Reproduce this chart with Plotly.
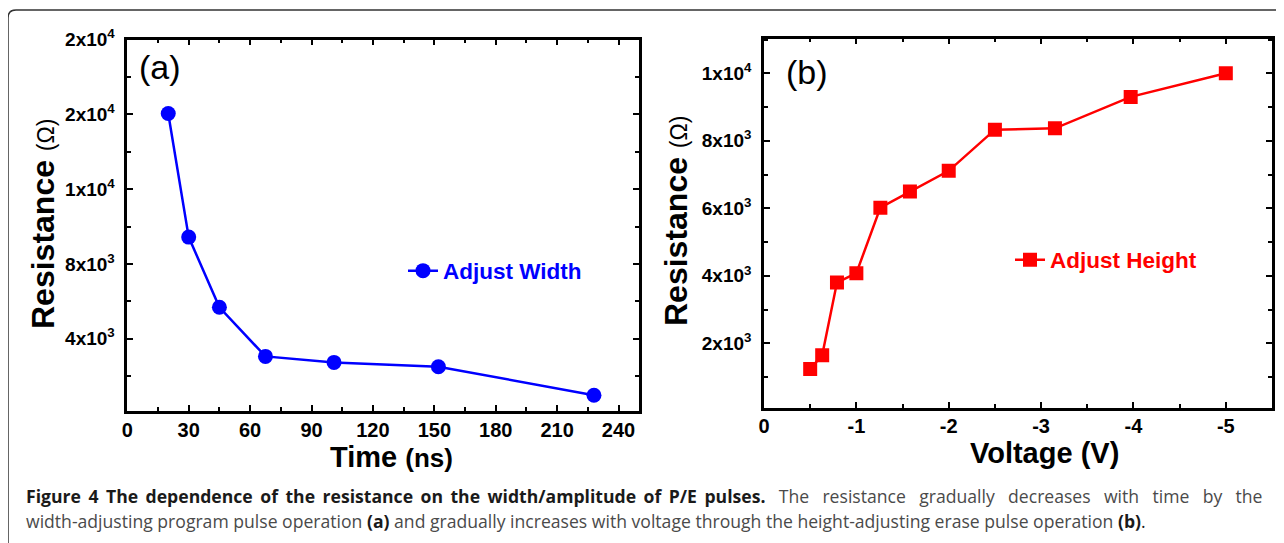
import plotly.graph_objects as go

# ---- data ----
time_ns = [20, 30, 45, 67.5, 101, 152, 228]
res_width = [16050, 9440, 5690, 3060, 2740, 2510, 980]

voltage = [-0.5, -0.63, -0.79, -1.0, -1.26, -1.58, -2.0, -2.5, -3.15, -3.97, -5.0]
res_height = [1240, 1650, 3800, 4080, 6020, 6500, 7110, 8330, 8370, 9300, 10000]

xa_ticks = [0, 30, 60, 90, 120, 150, 180, 210, 240]
ya_ticks = [4000, 8000, 12000, 16000, 20000]
ya_text = ["4x10<sup>3</sup>", "8x10<sup>3</sup>", "1x10<sup>4</sup>", "2x10<sup>4</sup>", "2x10<sup>4</sup>"]

xb_ticks = [0, -1, -2, -3, -4, -5]
xb_text = ["0", "-1", "-2", "-3", "-4", "-5"]
yb_ticks = [2000, 4000, 6000, 8000, 10000]
yb_text = ["2x10<sup>3</sup>", "4x10<sup>3</sup>", "6x10<sup>3</sup>", "8x10<sup>3</sup>", "1x10<sup>4</sup>"]

W, H = 1284, 543
OX, OY = -9, -10   # compensate for page offset
FONT = "Liberation Sans, Arial, sans-serif"

def px_x(v):
    return (v + OX) / W

def px_y(v):
    return 1 - (v + OY) / H

fig = go.Figure()
fig.add_trace(go.Scatter(
    x=time_ns, y=res_width, mode="lines+markers", name="<b>Adjust Width</b>",
    line=dict(color="#0000FF", width=2.5),
    marker=dict(symbol="circle", size=15, color="#0000FF"),
    xaxis="x", yaxis="y", legend="legend"))
fig.add_trace(go.Scatter(
    x=voltage, y=res_height, mode="lines+markers", name="<b>Adjust Height</b>",
    line=dict(color="#FF0000", width=2.5),
    marker=dict(symbol="square", size=14, color="#FF0000"),
    xaxis="x2", yaxis="y2", legend="legend2"))

minor_style = dict(ticks="inside", ticklen=4, tickwidth=2, tickcolor="black")
axis_common = dict(
    showline=True, linecolor="black", linewidth=2.5, mirror="allticks",
    ticks="inside", ticklen=6, tickwidth=2, tickcolor="black",
    showgrid=False, zeroline=False, automargin=False,
)
xfont = dict(family=FONT, size=20, color="black", weight="bold")
yfont = dict(family=FONT, size=19, color="black", weight="bold")

fig.update_layout(
    width=W, height=H,
    margin=dict(l=0, r=0, t=0, b=0),
    paper_bgcolor="white", plot_bgcolor="white",
    xaxis=dict(domain=[px_x(128.3), px_x(640)], range=[0, 250], anchor="y",
               tickmode="array", tickvals=xa_ticks, ticktext=[str(t) for t in xa_ticks],
               minor=dict(dtick=15, tick0=0, **minor_style),
               ticklabelstandoff=-1, tickfont=xfont, **axis_common),
    yaxis=dict(domain=[px_y(412.8), px_y(41.7)], range=[150, 20000], anchor="x",
               tickmode="array", tickvals=ya_ticks, ticktext=ya_text,
               minor=dict(dtick=2000, tick0=0, **minor_style),
               ticklabelstandoff=6, tickfont=yfont, **axis_common),
    xaxis2=dict(domain=[px_x(765), px_x(1273)], range=[0, -5.5], anchor="y2",
                tickmode="array", tickvals=xb_ticks, ticktext=xb_text,
                minor=dict(dtick=0.5, tick0=0, **minor_style),
                ticklabelstandoff=-1, tickfont=xfont, **axis_common),
    yaxis2=dict(domain=[px_y(409.5), px_y(40.5)], range=[100, 11030], anchor="x2",
                tickmode="array", tickvals=yb_ticks, ticktext=yb_text,
                minor=dict(dtick=1000, tick0=0, **minor_style),
                ticklabelstandoff=6, tickfont=yfont, **axis_common),
    legend=dict(x=px_x(404), y=px_y(273), xanchor="left", yanchor="middle",
                bgcolor="rgba(0,0,0,0)", borderwidth=0,
                font=dict(family=FONT, size=22.5, color="#0000FF")),
    legend2=dict(x=px_x(1011), y=px_y(262), xanchor="left", yanchor="middle",
                 bgcolor="rgba(0,0,0,0)", borderwidth=0,
                 font=dict(family=FONT, size=22.5, color="#FF0000")),
    showlegend=True,
)

def note(text, x, y, size, angle=0, xa="center", ya="middle", family=FONT, color="black"):
    return dict(text=text, x=px_x(x), y=px_y(y), xref="paper", yref="paper",
                xanchor=xa, yanchor=ya, textangle=angle, showarrow=False,
                font=dict(family=family, size=size, color=color))

ann = []
ann.append(note("(a)", 161, 69, 34))
ann.append(note("(b)", 808, 74, 34))
ytitle = "<b>Resistance</b> <span style='font-size:23px'>(Ω)</span>"
ann.append(note(ytitle, 44, 226, 32, angle=-90))
ann.append(note(ytitle, 677, 223, 32, angle=-90))
ann.append(note("<b>Time <span style='font-size:26px'>(ns)</span></b>", 392, 459, 29))
ann.append(note("<b>Voltage (V)</b>", 1045, 455, 29))

# caption: first line is justified in the reference, so the word gaps are widened
GAP_B = " \u2009"
GAP_N = " \u2009\u2009\u2009"
cap1_bold = "Figure 4 The dependence of the resistance on the width/amplitude of P/E pulses."
cap1_norm = " The resistance gradually decreases with time by the"
cap1 = ("<b>" + cap1_bold.replace(" ", GAP_B) + "</b>"
        "<span style='color:#4a4a4a'>" + cap1_norm.replace(" ", GAP_N) + "</span>")
cap2 = ("<span style='color:#4a4a4a'>width-adjusting program pulse operation </span><b>(a)</b>"
        "<span style='color:#4a4a4a'> and gradually increases with voltage through the height-adjusting erase pulse operation </span><b>(b)</b>.")
ann.append(note(cap1, 25, 498, 17.6, xa="left", family="Open Sans, sans-serif", color="#1a1a1a"))
ann.append(note(cap2, 25, 523, 17.6, xa="left", family="Open Sans, sans-serif", color="#1a1a1a"))
fig.update_layout(annotations=ann)

# outer frame with rounded top-left corner
x0, yt, r = 9, 12, 8
path = (f"M {px_x(x0)},{px_y(H + 20)} L {px_x(x0)},{px_y(yt + r)} "
        f"Q {px_x(x0)},{px_y(yt)} {px_x(x0 + r)},{px_y(yt)} L {px_x(W + 20)},{px_y(yt)}")
fig.add_shape(type="path", path=path, xref="paper", yref="paper",
              line=dict(color="#333333", width=1.5))

fig.write_html("out.html")
